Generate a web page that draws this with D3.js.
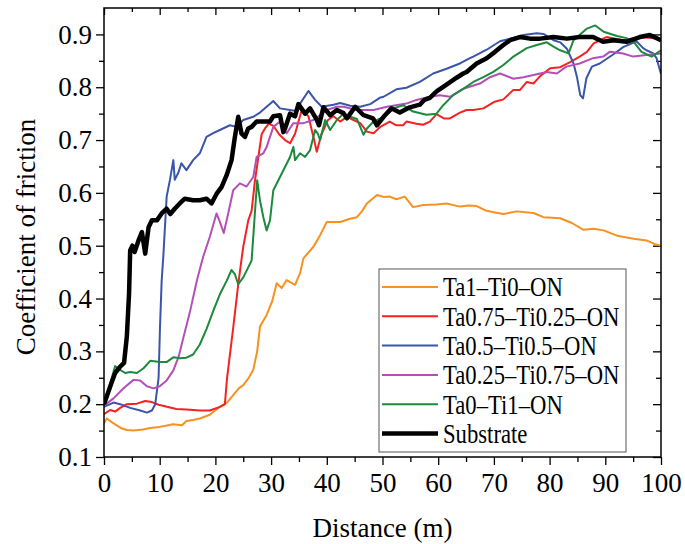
<!DOCTYPE html>
<html>
<head>
<meta charset="utf-8">
<script src="https://cdn.jsdelivr.net/npm/d3@7"></script>
<style>
  body { margin: 0; background: #fff; }
  svg { display: block; }
  .tick text { font-family: "Liberation Serif", "Times New Roman", serif; font-size: 27px; fill: #000; }
  .tick line { stroke: #000; stroke-width: 1.3; }
</style>
</head>
<body>
<svg id="chart"></svg>
<script>
// distance (m) / coefficient of friction pairs
var ta1Ti0 = [[0,0.164],[0.5,0.173],[1.5,0.165],[3,0.155],[4.1,0.151],[5.3,0.150],[7,0.152],[8.3,0.155],[10,0.157],[11.5,0.160],[12.4,0.162],[14,0.160],[14.8,0.168],[16,0.170],[17.2,0.173],[19,0.180],[20.8,0.195],[22,0.202],[23.2,0.217],[24.2,0.230],[25,0.236],[26,0.250],[26.8,0.265],[27.5,0.300],[28,0.347],[29.2,0.369],[30.2,0.395],[31,0.429],[31.9,0.420],[32.8,0.435],[34.3,0.426],[35.2,0.448],[35.8,0.476],[37.6,0.498],[38.8,0.520],[40,0.545],[42.4,0.545],[44.2,0.551],[45.4,0.554],[46.3,0.565],[47.2,0.580],[49,0.596],[50.3,0.592],[51.3,0.593],[52.5,0.588],[54,0.593],[55.5,0.573],[57.3,0.577],[59.7,0.578],[61.5,0.580],[63.9,0.574],[65.5,0.576],[66.9,0.575],[68.7,0.566],[70.2,0.563],[71.7,0.560],[74.1,0.565],[77.1,0.562],[78.9,0.554],[81.9,0.552],[84,0.543],[86.1,0.530],[87.9,0.532],[89.7,0.529],[92.1,0.519],[95.1,0.513],[97.4,0.510],[98.9,0.503],[100,0.500]];

var ta075Ti025 = [[0,0.181],[1.1,0.189],[2,0.186],[2.9,0.193],[4.1,0.200],[5.9,0.201],[7.4,0.206],[8.6,0.204],[9.8,0.199],[11.3,0.195],[13,0.191],[14.8,0.190],[17.2,0.188],[19,0.188],[20.8,0.195],[21.7,0.200],[22.1,0.250],[23.2,0.345],[24.1,0.427],[24.7,0.475],[25,0.498],[25.9,0.548],[26.5,0.566],[27.1,0.623],[27.7,0.667],[28.3,0.711],[28.9,0.722],[29.6,0.731],[30.4,0.727],[31.5,0.710],[32.5,0.700],[33.4,0.694],[34.3,0.712],[35.5,0.757],[36.7,0.745],[37.6,0.706],[38.2,0.678],[39,0.710],[40.2,0.738],[41.2,0.745],[42.4,0.735],[43.6,0.744],[44.8,0.738],[46,0.732],[47.2,0.716],[48.4,0.713],[49.6,0.725],[51.3,0.735],[52.5,0.728],[53.7,0.728],[54.3,0.735],[56.1,0.731],[57.3,0.729],[58.5,0.735],[59.7,0.749],[61,0.741],[62.1,0.741],[63.9,0.752],[65.1,0.757],[66.3,0.757],[68.1,0.760],[70,0.772],[71.7,0.777],[73.5,0.795],[74.7,0.795],[75.9,0.810],[77.1,0.807],[78.3,0.821],[80.1,0.836],[81.9,0.838],[83.6,0.847],[85.4,0.858],[86.7,0.867],[87.9,0.883],[89.1,0.889],[90.2,0.895],[93.2,0.889],[96.2,0.895],[99.8,0.892]];

var ta05Ti05 = [[0,0.195],[1.7,0.203],[2.9,0.200],[4.7,0.193],[6.5,0.188],[7.7,0.184],[8.6,0.188],[9.2,0.200],[9.8,0.250],[10.05,0.345],[10.35,0.433],[10.65,0.480],[11.25,0.593],[11.85,0.625],[12.45,0.662],[12.7,0.625],[13.3,0.637],[13.9,0.656],[14.8,0.643],[16,0.662],[17.2,0.675],[18.4,0.706],[19.6,0.713],[20.8,0.719],[22.6,0.728],[23.8,0.725],[25,0.738],[26.8,0.744],[28,0.752],[29.2,0.763],[30.4,0.774],[31.6,0.760],[33.4,0.757],[34.5,0.755],[35.2,0.769],[36.7,0.793],[37.9,0.776],[39.1,0.763],[41.2,0.767],[42.4,0.770],[44.2,0.765],[46,0.763],[47.8,0.768],[49.5,0.780],[50.2,0.782],[52.5,0.796],[54.3,0.799],[56.7,0.810],[59.1,0.826],[61.5,0.835],[63.9,0.845],[65.7,0.855],[66.3,0.858],[68.7,0.871],[71.1,0.887],[72.9,0.892],[75.3,0.899],[77.7,0.902],[78.9,0.901],[80.7,0.889],[81.9,0.885],[83.1,0.873],[84.3,0.845],[84.9,0.820],[85.5,0.785],[86,0.779],[86.6,0.817],[87.6,0.839],[89,0.845],[91.4,0.862],[93.2,0.876],[95.6,0.887],[96.8,0.874],[97.4,0.870],[98.6,0.864],[99.2,0.855],[100,0.825]];

var ta025Ti075 = [[0,0.197],[1.7,0.211],[3.5,0.230],[5.3,0.246],[6.5,0.245],[7.7,0.234],[8.9,0.230],[10,0.234],[11.25,0.245],[12.45,0.264],[13.4,0.290],[14.3,0.328],[15.5,0.378],[16.7,0.435],[17.8,0.479],[19,0.517],[20.2,0.561],[20.8,0.545],[21.5,0.524],[22.3,0.561],[23.2,0.605],[24.4,0.618],[25.6,0.612],[26.8,0.630],[27.4,0.668],[28.6,0.675],[29.2,0.687],[30.4,0.725],[31.6,0.735],[32.8,0.713],[34,0.732],[35.8,0.732],[37.6,0.738],[40,0.757],[41.8,0.763],[43,0.763],[45.4,0.757],[48.4,0.757],[50.8,0.763],[54.3,0.769],[56.1,0.776],[58.5,0.782],[60.3,0.785],[62.1,0.782],[64.5,0.797],[67.5,0.807],[69.3,0.819],[71.1,0.826],[73.5,0.816],[75.3,0.819],[77.1,0.823],[79.5,0.829],[81.3,0.826],[83,0.839],[85.4,0.845],[87.8,0.855],[89.6,0.858],[90.8,0.867],[93.2,0.864],[95,0.858],[97.4,0.861],[100,0.864]];

var ta0Ti1 = [[0,0.200],[1,0.235],[2,0.272],[2.9,0.265],[3.8,0.259],[4.7,0.261],[5.9,0.259],[7.1,0.268],[8.3,0.282],[10,0.280],[11.3,0.280],[12.5,0.289],[13.6,0.287],[14.8,0.288],[16,0.294],[17.2,0.313],[18.4,0.342],[19.6,0.376],[20.8,0.408],[22,0.433],[22.9,0.454],[23.5,0.446],[24.1,0.427],[25,0.440],[25.9,0.459],[26.5,0.472],[27,0.548],[27.5,0.624],[28,0.586],[28.6,0.554],[29.2,0.529],[29.8,0.548],[30.4,0.605],[31.6,0.630],[32.5,0.649],[33.4,0.668],[34,0.687],[34.3,0.662],[35.2,0.675],[36.1,0.668],[37,0.681],[37.9,0.719],[38.4,0.712],[38.8,0.700],[39.7,0.738],[40.6,0.719],[41.8,0.738],[43,0.750],[44.2,0.744],[45.4,0.740],[46.6,0.710],[47.2,0.722],[48.4,0.735],[50.2,0.744],[52,0.760],[53.7,0.766],[55.5,0.754],[57.9,0.748],[59.7,0.750],[60.9,0.766],[62.7,0.785],[64.5,0.797],[66.3,0.810],[68.1,0.819],[69.9,0.829],[71.7,0.842],[73.5,0.858],[75.9,0.874],[77.7,0.880],[79.5,0.885],[80.7,0.877],[81.9,0.870],[83.4,0.864],[84.3,0.889],[86.7,0.911],[88.2,0.917],[89.7,0.905],[92.1,0.897],[93.8,0.893],[95.1,0.886],[96.5,0.867],[98.3,0.858],[100,0.870]];

var substrate = [[0,0.200],[1.1,0.233],[2,0.259],[2.9,0.271],[3.6,0.278],[4.1,0.328],[4.5,0.410],[4.7,0.491],[5.1,0.500],[5.5,0.488],[6.2,0.510],[6.8,0.526],[7.4,0.485],[8,0.535],[8.6,0.548],[9.5,0.548],[10.35,0.561],[11.25,0.570],[11.9,0.560],[12.7,0.570],[13.6,0.580],[14.5,0.589],[16,0.586],[17.2,0.586],[18.4,0.589],[19.3,0.580],[20.2,0.598],[21.1,0.611],[22,0.633],[22.9,0.662],[23.5,0.706],[24.1,0.744],[24.7,0.712],[25.3,0.706],[25.9,0.722],[26.5,0.725],[27.4,0.735],[28.6,0.735],[29.8,0.735],[30.4,0.745],[31.6,0.747],[32.2,0.715],[32.5,0.722],[33.4,0.750],[34.3,0.745],[34.9,0.768],[36.1,0.750],[37,0.760],[38.2,0.738],[38.6,0.728],[39.4,0.762],[40.6,0.747],[41.8,0.757],[43,0.751],[43.6,0.741],[45.1,0.763],[46.6,0.747],[48.3,0.741],[49,0.728],[50.2,0.744],[51.6,0.760],[53.1,0.752],[54.9,0.762],[56.7,0.767],[57.5,0.776],[58.5,0.780],[59.7,0.792],[61.5,0.805],[63.3,0.818],[64.5,0.826],[65.1,0.829],[66.9,0.845],[68.7,0.855],[70.2,0.867],[71.7,0.880],[72.9,0.889],[74.7,0.895],[76.5,0.892],[78.3,0.892],[80.7,0.895],[83.1,0.892],[85.4,0.895],[87.8,0.895],[89.6,0.886],[91.5,0.889],[93.8,0.886],[96.2,0.895],[98,0.899],[100,0.889]];

var seriesNames = ['Ta1\u2013Ti0\u2013ON', 'Ta0.75\u2013Ti0.25\u2013ON', 'Ta0.5\u2013Ti0.5\u2013ON', 'Ta0.25\u2013Ti0.75\u2013ON', 'Ta0\u2013Ti1\u2013ON', 'Substrate'];
var seriesData = [ta1Ti0, ta075Ti025, ta05Ti05, ta025Ti075, ta0Ti1, substrate];
var seriesColors = ['#f7911f', '#f52222', '#3a55aa', '#b350b8', '#1c8a3c', '#000000'];
var seriesWidths = [2, 2, 2, 2, 2, 4.5];

var xTicks = [0, 10, 20, 30, 40, 50, 60, 70, 80, 90, 100];
var xMinorTicks = [5, 15, 25, 35, 45, 55, 65, 75, 85, 95];
var yTicks = [0.1, 0.2, 0.3, 0.4, 0.5, 0.6, 0.7, 0.8, 0.9];
var yMinorTicks = [0.15, 0.25, 0.35, 0.45, 0.55, 0.65, 0.75, 0.85];

var config = {
  svgWidth: 685,
  svgHeight: 544,
  left: 104,
  right: 661,
  top: 8,
  bottom: 457,
  fontFamily: '"Liberation Serif", "Times New Roman", serif',
};

var svg = d3.select('#chart')
  .attr('width', config.svgWidth)
  .attr('height', config.svgHeight);

svg.append('rect')
  .attr('width', config.svgWidth)
  .attr('height', config.svgHeight)
  .attr('fill', '#fff');

var x = d3.scaleLinear().domain([0, 100]).range([config.left, config.right]);
var y = d3.scaleLinear().domain([0.1, 0.95]).range([config.bottom, config.top]);

// bottom axis, ticks outward
svg.append('g')
  .attr('transform', 'translate(0,' + config.bottom + ')')
  .call(d3.axisBottom(x).tickValues(xTicks).tickSize(8).tickPadding(8).tickFormat(d3.format('d')));
svg.append('g')
  .attr('transform', 'translate(0,' + config.bottom + ')')
  .call(d3.axisBottom(x).tickValues(xMinorTicks).tickSize(5).tickFormat(''));

// top axis, ticks inward
svg.append('g')
  .attr('transform', 'translate(0,' + config.top + ')')
  .call(d3.axisTop(x).tickValues(xTicks).tickSize(-7).tickFormat(''));
svg.append('g')
  .attr('transform', 'translate(0,' + config.top + ')')
  .call(d3.axisTop(x).tickValues(xMinorTicks).tickSize(-4).tickFormat(''));

// left axis, ticks outward
svg.append('g')
  .attr('transform', 'translate(' + config.left + ',0)')
  .call(d3.axisLeft(y).tickValues(yTicks).tickSize(8).tickPadding(4).tickFormat(d3.format('.1f')));
svg.append('g')
  .attr('transform', 'translate(' + config.left + ',0)')
  .call(d3.axisLeft(y).tickValues(yMinorTicks).tickSize(5).tickFormat(''));

// right axis, ticks inward
svg.append('g')
  .attr('transform', 'translate(' + config.right + ',0)')
  .call(d3.axisRight(y).tickValues(yTicks).tickSize(-8).tickFormat(''));
svg.append('g')
  .attr('transform', 'translate(' + config.right + ',0)')
  .call(d3.axisRight(y).tickValues(yMinorTicks).tickSize(-5).tickFormat(''));

svg.selectAll('.domain').remove();

svg.append('clipPath').attr('id', 'plot-clip')
  .append('rect')
  .attr('x', config.left)
  .attr('y', config.top)
  .attr('width', config.right - config.left)
  .attr('height', config.bottom - config.top);

var line = d3.line()
  .x(function(d) { return x(d[0]); })
  .y(function(d) { return y(d[1]); });

var plot = svg.append('g').attr('clip-path', 'url(#plot-clip)');
for (var i = 0; i < seriesData.length; i += 1) {
  plot.append('path')
    .attr('d', line(seriesData[i]))
    .attr('fill', 'none')
    .attr('stroke', seriesColors[i])
    .attr('stroke-width', seriesWidths[i])
    .attr('stroke-linejoin', 'round');
}

// frame
svg.append('rect')
  .attr('x', config.left)
  .attr('y', config.top)
  .attr('width', config.right - config.left)
  .attr('height', config.bottom - config.top)
  .attr('fill', 'none')
  .attr('stroke', '#000')
  .attr('stroke-width', 1.5);

// legend
var legend = svg.append('g');
legend.append('rect')
  .attr('x', 379)
  .attr('y', 269)
  .attr('width', 247)
  .attr('height', 183)
  .attr('fill', '#fff')
  .attr('stroke', '#555')
  .attr('stroke-width', 1);

for (var k = 0; k < seriesNames.length; k += 1) {
  var ly = 287 + k * 29.3;
  legend.append('line')
    .attr('x1', 382).attr('x2', 438)
    .attr('y1', ly).attr('y2', ly)
    .attr('stroke', seriesColors[k])
    .attr('stroke-width', seriesWidths[k]);
  legend.append('text')
    .attr('transform', 'translate(443,' + ly + ') scale(0.84,1)')
    .attr('dy', '0.35em')
    .attr('font-family', config.fontFamily)
    .attr('font-size', '27px')
    .text(seriesNames[k]);
}

// axis titles
svg.append('text')
  .attr('x', (config.left + config.right) / 2)
  .attr('y', 537)
  .attr('text-anchor', 'middle')
  .attr('font-family', config.fontFamily)
  .attr('font-size', '27px')
  .text('Distance (m)');

svg.append('text')
  .attr('transform', 'translate(35,' + 237 + ') rotate(-90)')
  .attr('text-anchor', 'middle')
  .attr('font-family', config.fontFamily)
  .attr('font-size', '27px')
  .text('Coefficient of friction');
</script>
</body>
</html>
